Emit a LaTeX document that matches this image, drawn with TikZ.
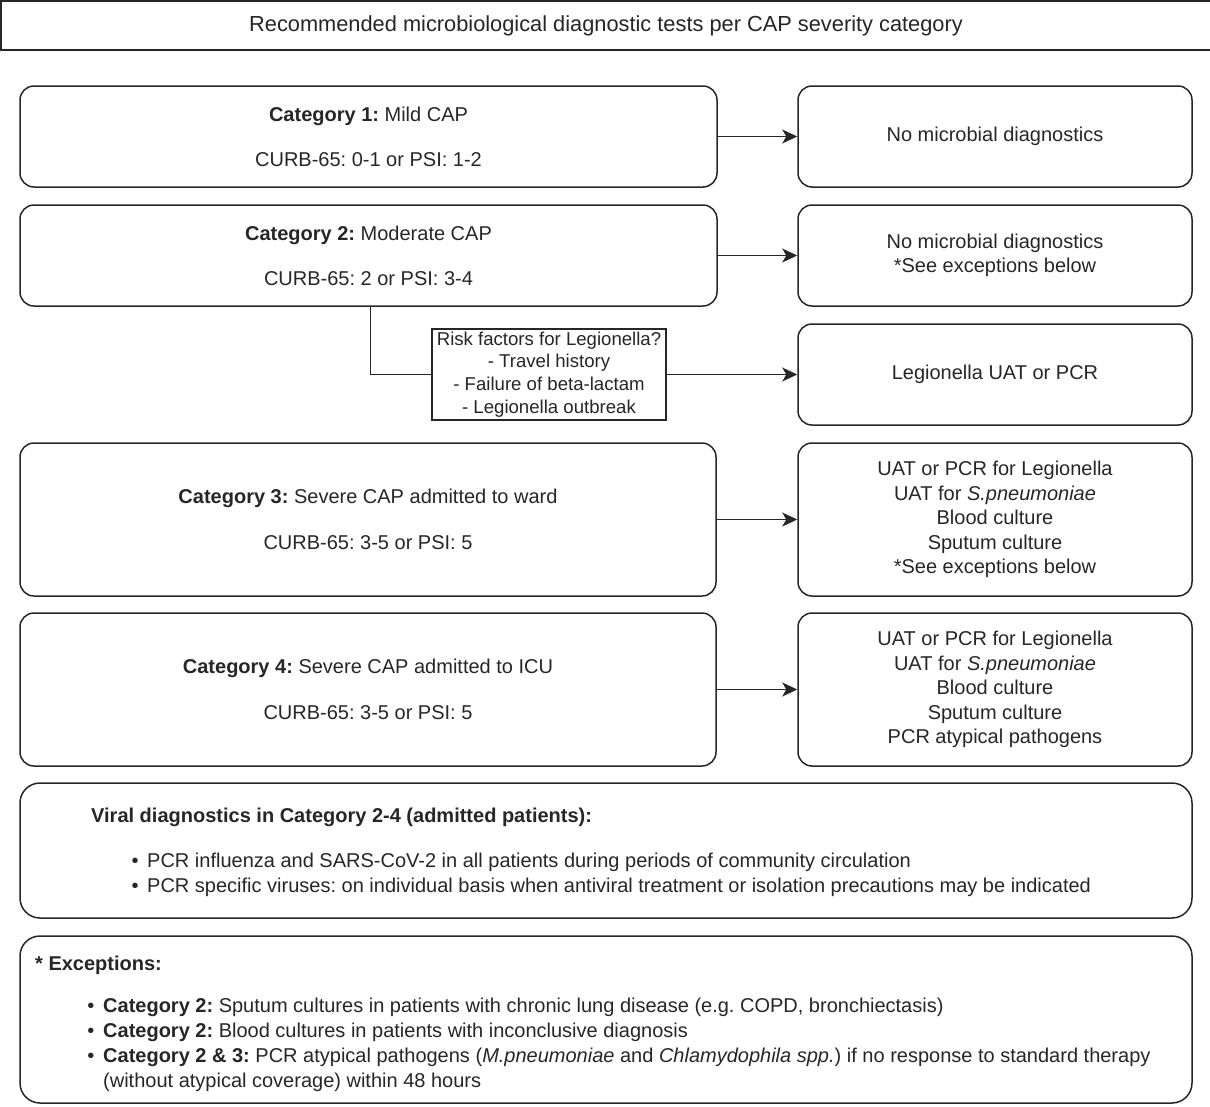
\documentclass[tikz,border=0pt]{standalone}
\usepackage{fontspec}
\setmainfont{Liberation Sans}
\usetikzlibrary{arrows.meta}
\frenchspacing
\begin{document}
\begin{tikzpicture}[x=1pt,y=-1pt,
  every node/.style={font=\fontsize{20}{24.5}\selectfont, text=black!85},
  box/.style={draw=black!85, line width=1.5pt, rounded corners=14pt, inner sep=0pt, align=center},
  bigbox/.style={draw=black!85, line width=1.5pt, rounded corners=20pt, inner sep=0pt},
  plain/.style={draw=black!85, line width=1.5pt, inner sep=0pt, align=center, fill=white},
  conn/.style={draw=black!85, line width=1.5pt},
  arr/.style={conn, -{Stealth[length=15pt,width=14pt,inset=4pt]}},
  txt/.style={anchor=base west, inner sep=0pt},
  bul/.style={anchor=base, inner sep=0pt}
]
\useasboundingbox (0,0) rectangle (1210,1106);

% title
\node[plain, minimum width=1210pt, minimum height=49pt, font=\fontsize{21.8}{26}\selectfont] (title) at (606,25.5)
  {Recommended microbiological diagnostic tests per CAP severity category};

% category boxes
\node[box, minimum width=697pt, minimum height=101pt] (c1) at (368.5,136.5)
  {\textbf{Category 1:} Mild CAP\\[20.5pt]CURB-65: 0-1 or PSI: 1-2};
\node[box, minimum width=697pt, minimum height=101pt] (c2) at (368.5,255.5)
  {\textbf{Category 2:} Moderate CAP\\[20.5pt]CURB-65: 2 or PSI: 3-4};
\node[box, minimum width=696pt, minimum height=153pt] (c3) at (368,519.5)
  {\textbf{Category 3:} Severe CAP admitted to ward\\[21pt]CURB-65: 3-5 or PSI: 5};
\node[box, minimum width=696pt, minimum height=153pt] (c4) at (368,689.5)
  {\textbf{Category 4:} Severe CAP admitted to ICU\\[21pt]CURB-65: 3-5 or PSI: 5};

% result boxes
\node[box, minimum width=394pt, minimum height=101pt] (r1) at (995,136.5)
  {No microbial diagnostics};
\node[box, minimum width=394pt, minimum height=101pt] (r2) at (995,255.5)
  {No microbial diagnostics\\*See exceptions below};
\node[box, minimum width=394pt, minimum height=101pt] (r3) at (995,374.5)
  {Legionella UAT or PCR};
\node[box, minimum width=394pt, minimum height=153pt] (r4) at (995,519.5)
  {UAT or PCR for Legionella\\UAT for \textit{S.pneumoniae}\\Blood culture\\Sputum culture\\*See exceptions below};
\node[box, minimum width=394pt, minimum height=153pt] (r5) at (995,689.5)
  {UAT or PCR for Legionella\\UAT for \textit{S.pneumoniae}\\Blood culture\\Sputum culture\\PCR atypical pathogens};

% risk factor label
\node[plain, minimum width=234pt, minimum height=91pt, font=\fontsize{18.6}{22.7}\selectfont] (risk) at (549,374.5)
  {Risk factors for Legionella?\\- Travel history\\- Failure of beta-lactam\\- Legionella outbreak};

% connectors
\draw[arr] (c1.east) -- (r1.west);
\draw[arr] (c2.east) -- (r2.west);
\draw[conn] ([xshift=351pt]c2.south west) |- (risk.west);
\draw[arr] (risk.east) -- (r3.west);
\draw[arr] (c3.east) -- (r4.west);
\draw[arr] (c4.east) -- (r5.west);

% viral diagnostics
\node[bigbox, minimum width=1172pt, minimum height=135pt] (viral) at (606,850.5) {};
\node[txt] (vh) at (91,822) {\textbf{Viral diagnostics in Category 2-4 (admitted patients):}};
\node[bul] (vb1) at (135,867) {•};
\node[txt] (v1) at (147,867) {PCR influenza and SARS-CoV-2 in all patients during periods of community circulation};
\node[bul] (vb2) at (135,892) {•};
\node[txt] (v2) at (147,892) {PCR specific viruses: on individual basis when antiviral treatment or isolation precautions may be indicated};

% exceptions
\node[bigbox, minimum width=1172pt, minimum height=167pt] (exc) at (606,1019.5) {};
\node[txt] (eh) at (35,970) {\textbf{* Exceptions:}};
\node[bul] (eb1) at (91,1012) {•};
\node[txt] (e1) at (103,1012) {\textbf{Category 2:} Sputum cultures in patients with chronic lung disease (e.g. COPD, bronchiectasis)};
\node[bul] (eb2) at (91,1037) {•};
\node[txt] (e2) at (103,1037) {\textbf{Category 2:} Blood cultures in patients with inconclusive diagnosis};
\node[bul] (eb3) at (91,1062) {•};
\node[txt] (e3) at (103,1062) {\textbf{Category 2 \& 3:} PCR atypical pathogens (\textit{M.pneumoniae} and \textit{Chlamydophila spp.}) if no response to standard therapy};
\node[txt] (e4) at (103,1087) {(without atypical coverage) within 48 hours};
\end{tikzpicture}
\end{document}
